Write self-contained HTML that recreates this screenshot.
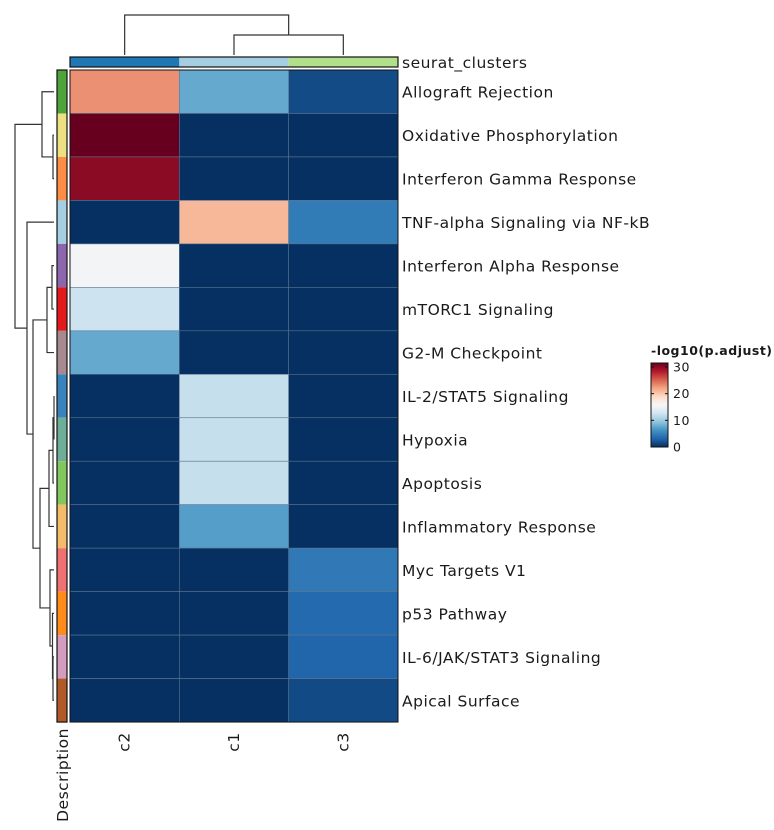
<!DOCTYPE html>
<html><head><meta charset="utf-8"><style>
body{margin:0;background:#fff;width:774px;height:825px;overflow:hidden}
svg text{font-family:"DejaVu Sans","Liberation Sans",sans-serif;fill:#1a1a1a;letter-spacing:0.5px}
</style></head><body>
<svg id="chart" width="774" height="825" xmlns="http://www.w3.org/2000/svg"></svg>
<script>
const rowLabels=["Allograft Rejection","Oxidative Phosphorylation","Interferon Gamma Response","TNF-alpha Signaling via NF-kB","Interferon Alpha Response","mTORC1 Signaling","G2-M Checkpoint","IL-2/STAT5 Signaling","Hypoxia","Apoptosis","Inflammatory Response","Myc Targets V1","p53 Pathway","IL-6/JAK/STAT3 Signaling","Apical Surface"];
const colLabels=["c2","c1","c3"];
const valsC2=[23,31.5,30,0,15.3,12.4,7.7,0,0,0,0,0,0,0,0];
const valsC1=[7.7,0,0,21,0,0,0,12,12,12,7,0,0,0,0];
const valsC3=[1.6,0,0,4.6,0,0,0,0,0,0,0,4.5,3.4,3.1,1.5];
const rowColors=["#4ea33a","#ede083","#fc8d45","#a6cee3","#8c67ad","#e31a1c","#a68a8f","#3a84bd","#6eae98","#82c65e","#f2bc6b","#f07171","#ff8c1a","#d39dc0","#b15928"];
const colColors=["#1f78b4","#a6cee3","#b2df8a"];
const legendTicks=[0,10,20,30];
const vmax=31.5;
const NS="http://www.w3.org/2000/svg";
const svg=document.getElementById('chart');
function mk(t,a,p){const e=document.createElementNS(NS,t);for(const k in a)e.setAttribute(k,a[k]);(p||svg).appendChild(e);return e;}
const X0=70,Y0=70,CW=109.33,RH=43.47;
const xc=i=>X0+CW*i, yr=i=>Y0+RH*i;
const stops=["#053061","#2166ac","#4393c3","#92c5de","#d1e5f0","#f7f7f7","#fddbc7","#f4a582","#d6604d","#b2182b","#67001f"];
function hx(h){return [1,3,5].map(i=>parseInt(h.substr(i,2),16));}
function cmap(v){let t=Math.max(0,Math.min(1,v/vmax))*10;let i=Math.min(9,Math.floor(t));let f=t-i;const a=hx(stops[i]),b=hx(stops[i+1]);return "rgb("+a.map((c,k)=>Math.round(c+(b[k]-c)*f)).join(",")+")";}
const cols=[valsC2,valsC1,valsC3];
for(let c=0;c<3;c++){for(let r=0;r<rowLabels.length;r++){
 const e=mk('rect',{x:xc(c),y:yr(r),width:CW,height:RH,fill:cmap(cols[c][r]),stroke:"#5d7590","stroke-width":0.6});
 
 
}}
mk('rect',{x:X0,y:Y0,width:CW*3,height:RH*15,fill:"none",stroke:"#111","stroke-width":1});
rowLabels.forEach((l,r)=>{const t=mk('text',{x:402,y:yr(r)+RH/2+6,"font-size":15.5});t.textContent=l;
 
 });
colLabels.forEach((l,c)=>{const x=xc(c)+CW/2+5,y=742;const t=mk('text',{x:x,y:y,"font-size":15.5,"text-anchor":"middle",transform:`rotate(-90 ${x} ${y})`});t.textContent=l;
 
 });
colColors.forEach((c,i)=>{const e=mk('rect',{x:xc(i),y:57,width:CW,height:10,fill:c});
 
 });
mk('rect',{x:X0,y:57,width:CW*3,height:10,fill:"none",stroke:"#111","stroke-width":1.2});
const sc=mk('text',{x:402,y:68,"font-size":15.5});sc.textContent="seurat_clusters";

rowColors.forEach((c,i)=>{const e=mk('rect',{x:57,y:yr(i),width:10,height:RH,fill:c});
 
 });
mk('rect',{x:57,y:Y0,width:10,height:RH*15,fill:"none",stroke:"#111","stroke-width":1.2});
const ds=mk('text',{x:68,y:775,"font-size":15.5,"text-anchor":"middle",transform:"rotate(-90 68 775)"});ds.textContent="Description";

const g=mk('g',{stroke:"#333","stroke-width":1.2,fill:"none"});

const rc=i=>yr(i)+RH/2;
function link(y1,y2,x1,x2,xm){mk('path',{d:`M${x1} ${y1}H${xm}V${y2}H${x2}`},g);}
const L=54;
let n12=[(rc(1)+rc(2))/2,53]; link(rc(1),rc(2),L,L,53);
let n012=[(rc(0)+n12[0])/2,42]; link(rc(0),n12[0],L,53,42);
let n45=[(rc(4)+rc(5))/2,52]; link(rc(4),rc(5),L,L,52);
let n456=[(n45[0]+rc(6))/2,47]; link(n45[0],rc(6),52,L,47);
let n78=[(rc(7)+rc(8))/2,54]; link(rc(7),rc(8),L,L,54);
let n789=[(n78[0]+rc(9))/2,53]; link(n78[0],rc(9),54,L,53);
let n7_10=[(n789[0]+rc(10))/2,49]; link(n789[0],rc(10),53,L,49);
let n1314=[(rc(13)+rc(14))/2,53]; link(rc(13),rc(14),L,L,53);
let n12_14=[(rc(12)+n1314[0])/2,52.5]; link(rc(12),n1314[0],L,53,52.5);
let n11_14=[(rc(11)+n12_14[0])/2,50]; link(rc(11),n12_14[0],L,52.5,50);
let n7_14=[(n7_10[0]+n11_14[0])/2,40]; link(n7_10[0],n11_14[0],49,50,40);
let n4_14=[(n456[0]+n7_14[0])/2,33]; link(n456[0],n7_14[0],47,40,33);
let n3_14=[(rc(3)+n4_14[0])/2,27]; link(rc(3),n4_14[0],L,33,27);
link(n012[0],n3_14[0],42,27,15);
const cc=i=>xc(i)+CW/2;
mk('path',{d:`M${cc(1)} 55V35H${cc(2)}V55`},g);
mk('path',{d:`M${cc(0)} 55V15H${(cc(1)+cc(2))/2}V35`},g);
const lg=mk('g',{});
const lt=mk('text',{x:651,y:355,"font-size":12.5,"font-weight":"bold"},lg);lt.textContent="-log10(p.adjust)";
const defs=mk('defs',{});const gr=mk('linearGradient',{id:"cb",x1:0,y1:1,x2:0,y2:0},defs);
stops.forEach((s,i)=>mk('stop',{offset:i/10,"stop-color":s},gr));
const LB=447,LT=363;
mk('rect',{x:651,y:LT,width:17,height:LB-LT,fill:"url(#cb)",stroke:"#111","stroke-width":1},lg);
const ly=v=>LB-(LB-LT)*v/vmax;
legendTicks.forEach(v=>{mk('line',{x1:665,x2:668,y1:ly(v),y2:ly(v),stroke:"#111"},lg);mk('line',{x1:651,x2:654,y1:ly(v),y2:ly(v),stroke:"#111"},lg);
 const t=mk('text',{x:673,y:ly(v)+4.5,"font-size":12.5},lg);t.textContent=v;});
</script>
</body></html>
